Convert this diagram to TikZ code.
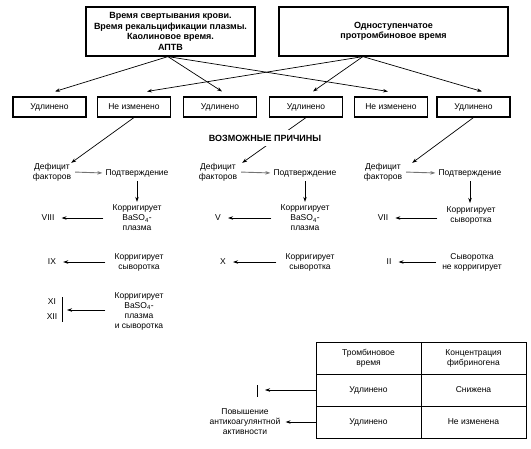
\documentclass[tikz,border=0pt]{standalone}
\usepackage{fontspec}
\setmainfont{Liberation Sans}
\usetikzlibrary{arrows.meta,calc}
\begin{document}
\begin{tikzpicture}[x=1pt,y=-1pt,
 every node/.style={font=\fontsize{8.5}{10}\selectfont, align=center, inner sep=2pt},
 topbox/.style={draw, line width=1.2pt, font=\bfseries\fontsize{9}{10.5}\selectfont},
 resbox/.style={draw, line width=1.1pt, minimum width=73pt, minimum height=20pt},
 arr/.style={-{Stealth[length=5pt,width=3.5pt]}, line width=0.7pt},
 garr/.style={arr, draw=black!55, line width=0.9pt},
 cell/.style={draw, line width=0.8pt, minimum width=105pt, minimum height=32pt},
 lbl/.style={font=\bfseries\fontsize{9}{10.5}\selectfont, fill=white, inner xsep=2pt, inner ysep=5pt},
]
\useasboundingbox (0,0) rectangle (531,448);

% top boxes
\node[topbox, minimum width=169pt, minimum height=49pt] (t1) at (170.5,31.5)
  {Время свертывания крови.\\Время рекальцификации плазмы.\\Каолиновое время.\\АПТВ};
\node[topbox, minimum width=229pt, minimum height=49pt] (t2) at (393.5,31.5)
  {Одноступенчатое\\протромбиновое время};
\coordinate (t1o) at ($(t1.south west)!0.485!(t1.south east)$);
\coordinate (t2o) at ($(t2.south west)!0.367!(t2.south east)$);

% result boxes
\node[resbox] (b1) at (49.5,107) {Удлинено};
\node[resbox] (b2) at (134,107) {Не изменено};
\node[resbox] (b3) at (220,107) {Удлинено};
\node[resbox] (b4) at (306,107) {Удлинено};
\node[resbox] (b5) at (391,107) {Не изменено};
\node[resbox] (b6) at (473.5,107) {Удлинено};

\draw[arr] (t1o) -- ($(b1.north)+(5.5,-5)$);
\draw[arr] (t1o) -- ($(b3.north)+(2,-5)$);
\draw[arr] (t1o) -- ($(b5.north)+(-3,-5)$);
\draw[arr] (t2o) -- ($(b2.north)+(13,-5)$);
\draw[arr] (t2o) -- ($(b4.north)+(7,-5)$);
\draw[arr] (t2o) -- ($(b6.north)+(8.5,-5)$);

% causes
\node (d1) at (52,172) {Дефицит\\факторов};
\node (d2) at (218,172) {Дефицит\\факторов};
\node (d3) at (383,172) {Дефицит\\факторов};
\node (p1) at (137,173) {Подтверждение};
\node (p2) at (305,173) {Подтверждение};
\node (p3) at (470,173) {Подтверждение};

\draw[arr] (b2.south) -- ($(d1.north east)+(-2,2)$);
\draw[arr] (b4.south) -- ($(d2.north east)+(3,2)$);
\draw[arr] (b6.south) -- ($(d3.north east)+(8,2)$);
\node[lbl] (vp) at (265,138) {ВОЗМОЖНЫЕ ПРИЧИНЫ};

\draw[garr, shorten <=2pt, shorten >=1pt] (d1.east) -- (p1.west);
\draw[garr, shorten <=2pt, shorten >=1pt] (d2.east) -- (p2.west);
\draw[garr, shorten <=2pt, shorten >=1pt] (d3.east) -- (p3.west);

\node (k1) at (137,218) {Корригирует\\BaSO\textsubscript{4}-\\плазма};
\node (k2) at (305,218) {Корригирует\\BaSO\textsubscript{4}-\\плазма};
\node (k3) at (471,215) {Корригирует\\сыворотка};
\draw[arr, shorten <=2pt, shorten >=1pt] (p1.south) -- (p1.south |- k1.north);
\draw[arr, shorten <=2pt, shorten >=1pt] (p2.south) -- (p2.south |- k2.north);
\draw[arr, shorten <=2pt, shorten >=1pt] (p3.south) -- (p3.south |- k3.north);

\node (f8) at (48,218) {VIII};
\node (f5) at (218,218) {V};
\node (f7) at (383,218) {VII};
\draw[arr, shorten <=7pt, shorten >=5pt] (k1.west |- f8) -- (f8.east);
\draw[arr, shorten <=7pt, shorten >=5pt] (k2.west |- f5) -- (f5.east);
\draw[arr, shorten <=7pt, shorten >=5pt] (k3.west |- f7) -- (f7.east);

\node (k4) at (139,262) {Корригирует\\сыворотка};
\node (k5) at (310,262) {Корригирует\\сыворотка};
\node (k6) at (472,262) {Сыворотка\\не корригирует};
\node (f9) at (52,262) {IX};
\node (f10) at (223,262) {X};
\node (f2) at (389,262) {II};
\draw[arr, shorten <=7pt, shorten >=5pt] (k4.west |- f9) -- (f9.east);
\draw[arr, shorten <=7pt, shorten >=5pt] (k5.west |- f10) -- (f10.east);
\draw[arr, shorten <=4pt, shorten >=5pt] (k6.west |- f2) -- (f2.east);

\node (k7) at (139,311) {Корригирует\\BaSO\textsubscript{4}-\\плазма\\и сыворотка};
\node (f11) at (52,302) {XI};
\node (f12) at (52,317) {XII};
\coordinate (bar7t) at (62,297);
\coordinate (bar7b) at (62,322);
\draw[line width=0.9pt] (bar7t) -- (bar7b);
\draw[arr, shorten <=7pt, shorten >=5pt] (k7.west |- 0,310) -- (bar7t |- 0,310);

% table
\node[cell] (c11) at (368.5,358) {Тромбиновое\\время};
\node[cell] (c12) at (473.5,358) {Концентрация\\фибриногена};
\node[cell] (c21) at (368.5,390) {Удлинено};
\node[cell] (c22) at (473.5,390) {Снижена};
\node[cell] (c31) at (368.5,422) {Удлинено};
\node[cell] (c32) at (473.5,422) {Не изменена};

\coordinate (ibt) at (257,385);
\coordinate (ibb) at (257,397);
\draw[line width=0.9pt] (ibt) -- (ibb);
\draw[arr, shorten >=8pt] (c21.west) -- (ibt |- c21.west);
\node (ac) at (245,422) {Повышение\\антикоагулянтной\\активности};
\draw[arr, shorten >=3pt] (c31.west) -- (ac.east);
\end{tikzpicture}
\end{document}
